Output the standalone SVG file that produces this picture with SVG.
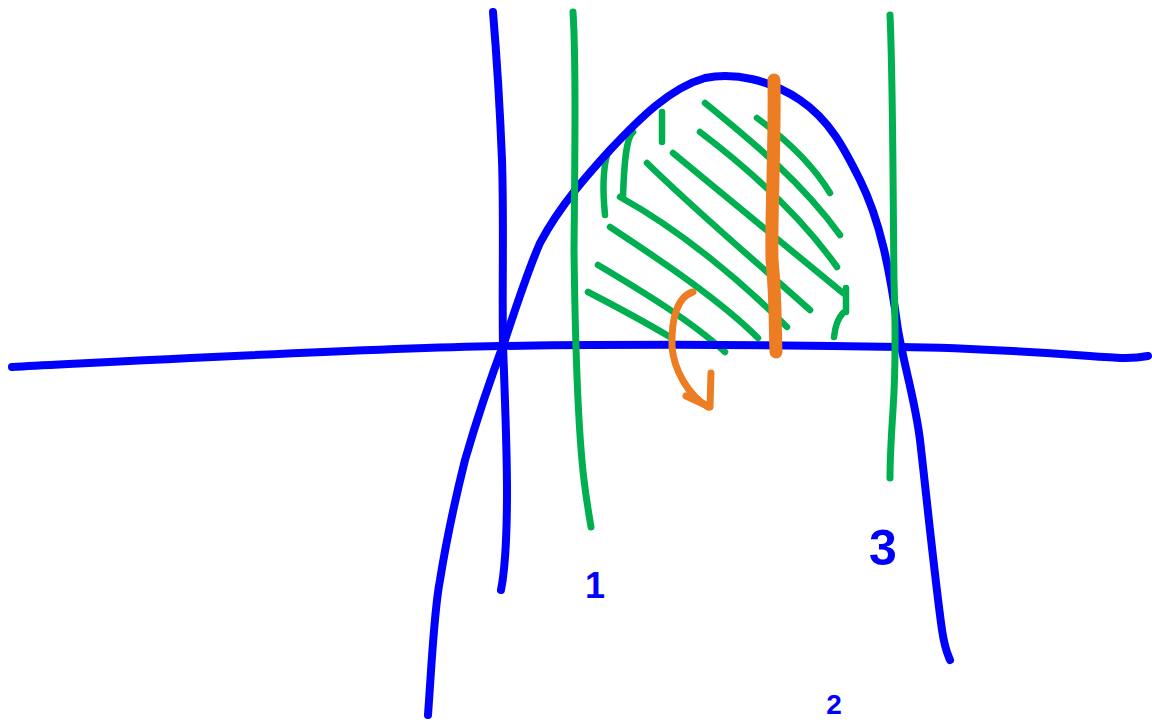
<svg xmlns="http://www.w3.org/2000/svg" width="1152" height="722" viewBox="0 0 1152 722">
<style>
.b{fill:none;stroke:#0000ff;stroke-width:8;stroke-linecap:round;stroke-linejoin:round}
.g{fill:none;stroke:#00b050;stroke-width:7;stroke-linecap:round;stroke-linejoin:round}
.h{fill:none;stroke:#00b050;stroke-width:6.5;stroke-linecap:round;stroke-linejoin:round}
.o{fill:none;stroke:#ed7d22;stroke-linecap:round;stroke-linejoin:round}
.t{font-family:"Liberation Sans",Arial,sans-serif;font-weight:bold;fill:#0000ff;text-anchor:middle}
</style>
<rect width="1152" height="722" fill="#ffffff"/>
<g id="hatching">
<path class="h" d="M757,118 C780,135 810,160 830,193"/>
<path class="h" d="M705,103 C750,140 800,180 840,235"/>
<path class="h" d="M700,132 C750,170 800,215 837,267"/>
<path class="h" d="M673,153 C730,200 790,250 843,293"/>
<path class="h" d="M647,163 C700,215 760,265 810,310"/>
<path class="h" d="M620,197 C680,230 740,280 787,327"/>
<path class="h" d="M610,227 C660,260 720,300 758,338"/>
<path class="h" d="M598,265 C640,290 690,320 725,352"/>
<path class="h" d="M588,292 C615,306 645,322 670,337"/>
<path class="h" d="M662,112 L662,142"/>
<path class="h" d="M633,132 C626,138 624,165 623,197"/>
<path class="h" d="M607,155 C603,170 603,195 605,215"/>
<path class="h" d="M846,288 L846,312"/>
<path class="h" d="M843,313 C838,318 835,328 834,337"/>
</g>
<g id="axes">
<path class="b" d="M12,367 C150,360 350,349 500,346 C650,344 800,345 900,347 C1000,348 1080,356 1120,358 C1135,358.5 1143,357 1148,356"/>
<path class="b" d="M493,12 C497,60 500,110 502,160 C504,220 502,290 503,345 C505,400 507,450 507,490 C507,540 505,570 501,590"/>
</g>
<g id="curve">
<path class="b" d="M428,715 C432,660 434,610 440,580 C448,530 455,500 465,460 C478,415 490,380 505,340 C515,310 528,270 540,243 C560,205 590,172 610,150 C640,118 670,88 705,78 C735,72 770,80 800,100 C830,120 845,150 860,180 C880,220 890,270 898,330 C905,370 915,400 920,440 C928,510 935,580 942,630 C945,650 948,655 950,660"/>
</g>
<g id="bound-1">
<path class="g" d="M573,12 C576,60 575,150 574,250 C575,330 578,430 584,480 C587,505 590,520 591,527"/>
</g>
<g id="bound-3">
<path class="g" d="M890,15 C893,80 893,200 894,280 C896,340 895,380 893,410 C891,440 890,460 890,478"/>
</g>
<g id="axis-of-rotation">
<path class="o" stroke-width="13" d="M774,80 C775,150 771,210 772,260 C776,300 775,330 776,352"/>
</g>
<g id="rotation-arrow">
<path class="o" stroke-width="7" d="M693,292 C678,296 671,318 672,347 C674,370 688,395 708,407"/>
<path class="o" stroke-width="7" d="M711,373 L710,407 L686,396"/>
</g>
<g id="labels">
<text class="t" x="595" y="598" font-size="36">1</text>
<text class="t" x="883" y="565" font-size="50">3</text>
<text class="t" x="834" y="714" font-size="28">2</text>
</g>
</svg>
